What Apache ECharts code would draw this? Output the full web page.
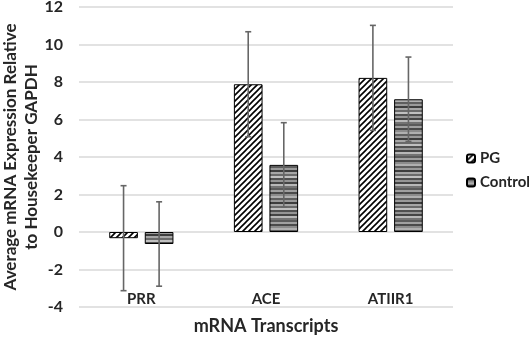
<!DOCTYPE html>
<html><head><meta charset="utf-8">
<script src="https://cdn.jsdelivr.net/npm/echarts@6/dist/echarts.min.js"></script>
<style>html,body{margin:0;padding:0;background:#fff}#c{width:529px;height:340px}</style>
</head><body><div id="c"></div>
<script>
var categories = ['PRR', 'ACE', 'ATIIR1'];
var pgValues = [-0.33, 7.88, 8.22];
var controlValues = [-0.64, 3.58, 7.08];
var pgErrors = [2.8, 2.8, 2.8];
var controlErrors = [2.25, 2.25, 2.25];
var yTicks = { min: -4, max: 12, interval: 2 };
var yTitle = 'Average mRNA Expression Relative\nto Housekeeper GAPDH';
var xTitle = 'mRNA Transcripts';

function hatchPattern() {
  var c = document.createElement('canvas');
  c.width = 6; c.height = 6;
  var g = c.getContext('2d');
  g.fillStyle = '#fff'; g.fillRect(0, 0, 6, 6);
  g.strokeStyle = '#000'; g.lineWidth = 1.6;
  g.beginPath();
  g.moveTo(-1, 7); g.lineTo(7, -1);
  g.moveTo(-4, 4); g.lineTo(4, -4);
  g.moveTo(2, 10); g.lineTo(10, 2);
  g.stroke();
  return c;
}
function stripePattern() {
  var greys = ['#4a4a4a','#8c8c8c','#b0b0b0','#5e5e5e','#9a9a9a','#3d3d3d','#a6a6a6','#6a6a6a','#c0c0c0','#505050','#959595','#454545','#b8b8b8','#737373','#5a5a5a','#a0a0a0'];
  var c = document.createElement('canvas');
  c.width = 4; c.height = greys.length * 2;
  var g = c.getContext('2d');
  greys.forEach(function (col, i) { g.fillStyle = col; g.fillRect(0, i * 2, 4, 2); });
  return c;
}

var chart = echarts.init(document.getElementById('c'), null, { renderer: 'canvas' });
var font = 'Lato, "Open Sans", sans-serif';
var BW = 0.23, GAP = 0.24;

function errSeries(vals, errs, side) {
  return {
    type: 'custom',
    z: 10,
    data: vals.map(function (v, i) { return [i, v, errs[i]]; }),
    renderItem: function (params, api) {
      var i = api.value(0), v = api.value(1), e = api.value(2);
      var catW = api.size([1, 0])[0];
      var bw = catW * BW;
      var off = side * (bw + bw * GAP) / 2;
      var top = api.coord([i, v + e]);
      var bot = api.coord([i, v - e]);
      var x = top[0] + off;
      var style = { stroke: '#666666', lineWidth: 1.6 };
      return {
        type: 'group',
        children: [
          { type: 'line', shape: { x1: x, y1: top[1], x2: x, y2: bot[1] }, style: style },
          { type: 'line', shape: { x1: x - 3, y1: top[1], x2: x + 3, y2: top[1] }, style: style },
          { type: 'line', shape: { x1: x - 3, y1: bot[1], x2: x + 3, y2: bot[1] }, style: style }
        ]
      };
    }
  };
}

chart.setOption({
  animation: false,
  backgroundColor: '#fff',
  grid: { left: 79, right: 76, top: 7, bottom: 33, containLabel: false, outerBoundsMode: 'none' },
  graphic: [{
    type: 'text', x: 21, y: 157, rotation: Math.PI / 2,
    style: { text: yTitle, fontFamily: font, fontSize: 17, fontWeight: 'bold', fill: '#262626',
      lineHeight: 21, align: 'center', verticalAlign: 'middle' }
  }],
  legend: {
    orient: 'vertical', left: 461, top: 146,
    itemWidth: 8, itemHeight: 8, itemGap: 9,
    data: ['PG', 'Control'],
    textStyle: { fontFamily: font, fontSize: 15, fontWeight: 'bold', color: '#262626' }
  },
  xAxis: {
    type: 'category', data: categories,
    name: xTitle, nameLocation: 'middle', nameGap: 10,
    nameTextStyle: { fontFamily: font, fontSize: 18, fontWeight: 'bold', color: '#262626', verticalAlign: 'top' },
    axisLine: { show: false }, axisTick: { show: false },
    axisLabel: { inside: true, margin: 0, fontFamily: font, fontSize: 15, fontWeight: 'bold', color: '#262626' }
  },
  yAxis: {
    type: 'value', min: yTicks.min, max: yTicks.max, interval: yTicks.interval,
    axisLine: { show: false }, axisTick: { show: false },
    axisLabel: { margin: 16, fontFamily: font, fontSize: 16, fontWeight: 'bold', color: '#262626' },
    splitLine: { lineStyle: { color: '#d9d9d9', width: 1.5 } }
  },
  series: [
    { name: 'PG', type: 'bar', data: pgValues, barWidth: (BW * 100) + '%', barGap: (GAP * 100) + '%',
      itemStyle: { color: { image: hatchPattern(), repeat: 'repeat' }, borderColor: '#000', borderWidth: 1 } },
    { name: 'Control', type: 'bar', data: controlValues, barWidth: (BW * 100) + '%',
      itemStyle: { color: { image: stripePattern(), repeat: 'repeat' }, borderColor: '#000', borderWidth: 1 } },
    errSeries(pgValues, pgErrors, -1),
    errSeries(controlValues, controlErrors, 1)
  ]
});
</script></body></html>
